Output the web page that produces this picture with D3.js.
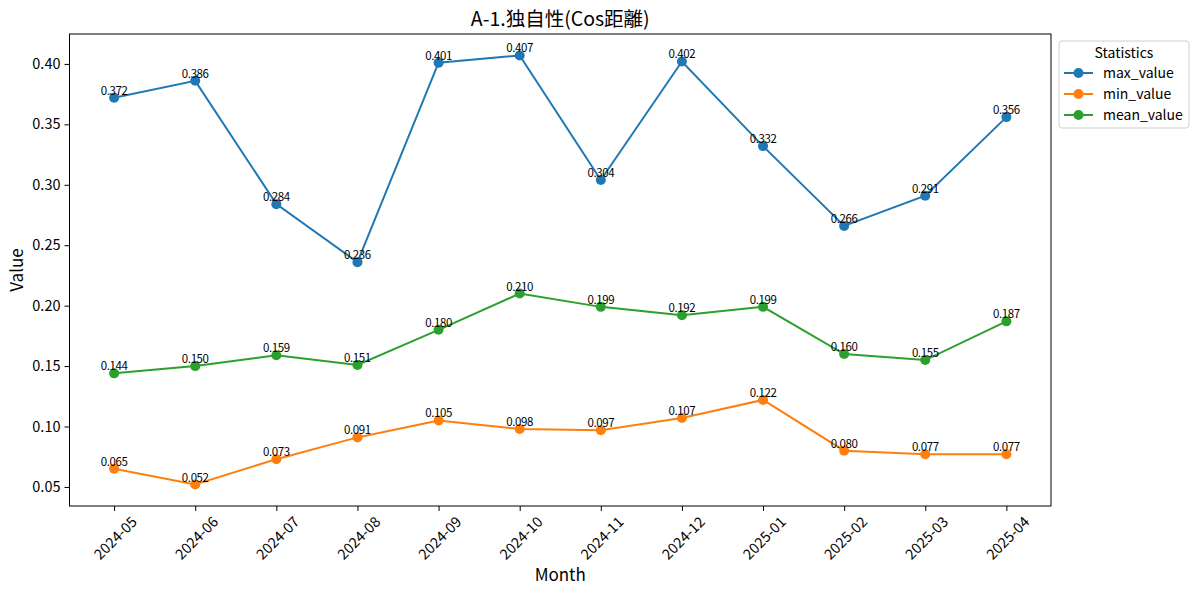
<!DOCTYPE html>
<html>
<head>
<meta charset="utf-8">
<script src="https://cdn.jsdelivr.net/npm/d3@7"></script>
<style>
  body { margin: 0; background: #fff; }
  svg text { font-family: "Noto Sans CJK JP", "Noto Sans", sans-serif; fill: #000; }
</style>
</head>
<body>
<svg id="chart" width="1200" height="595"></svg>
<script>
const months = ["2024-05","2024-06","2024-07","2024-08","2024-09","2024-10",
                "2024-11","2024-12","2025-01","2025-02","2025-03","2025-04"];
const maxValue  = [0.372,0.386,0.284,0.236,0.401,0.407,0.304,0.402,0.332,0.266,0.291,0.356];
const minValue  = [0.065,0.052,0.073,0.091,0.105,0.098,0.097,0.107,0.122,0.080,0.077,0.077];
const meanValue = [0.144,0.150,0.159,0.151,0.180,0.210,0.199,0.192,0.199,0.160,0.155,0.187];
const yTicks = [0.05,0.10,0.15,0.20,0.25,0.30,0.35,0.40];

const series = [
  {name: "max_value", values: maxValue, color: "#1f77b4"},
  {name: "min_value", values: minValue, color: "#ff7f0e"},
  {name: "mean_value", values: meanValue, color: "#2ca02c"}
];

const plotL = 69.5, plotR = 1051, plotT = 34, plotB = 506;
const svg = d3.select("#chart");

// matplotlib style 5% margins
const x = d3.scaleLinear().domain([-0.55, months.length - 1 + 0.55]).range([plotL, plotR]);
const allVals = maxValue.concat(minValue, meanValue);
const lo = d3.min(allVals), hi = d3.max(allVals), pad = (hi - lo) * 0.05;
const y = d3.scaleLinear().domain([lo - pad, hi + pad]).range([plotB, plotT]);

// y axis
const yAxis = svg.append("g").attr("transform", `translate(${plotL},0)`)
  .call(d3.axisLeft(y).tickValues(yTicks).tickFormat(d3.format(".2f")).tickSizeOuter(0).tickSize(5).tickPadding(4));
yAxis.select(".domain").remove();
yAxis.selectAll("text").attr("font-size", 14.5).style("font-family", '"Noto Sans CJK JP", sans-serif');

// x axis
const xAxis = svg.append("g").attr("transform", `translate(0,${plotB})`)
  .call(d3.axisBottom(x).tickValues(d3.range(months.length)).tickFormat(i => months[i]).tickSizeOuter(0).tickSize(5));
xAxis.select(".domain").remove();
xAxis.selectAll("text")
  .attr("font-size", 14.5)
  .style("font-family", '"Noto Sans CJK JP", sans-serif')
  .attr("text-anchor", "middle")
  .attr("dy", null)
  .attr("y", 0)
  .attr("dominant-baseline", "central")
  .attr("transform", "translate(0,31) rotate(-45)");

// frame
svg.append("rect").attr("x", plotL).attr("y", plotT)
  .attr("width", plotR - plotL).attr("height", plotB - plotT)
  .attr("fill", "none").attr("stroke", "#000").attr("stroke-width", 1);

// lines, markers, labels
const line = d3.line().x((d, i) => x(i)).y(d => y(d));
series.forEach(s => {
  svg.append("path").datum(s.values)
    .attr("d", line).attr("fill", "none")
    .attr("stroke", s.color).attr("stroke-width", 2);
  svg.append("g").selectAll("circle").data(s.values).enter().append("circle")
    .attr("cx", (d, i) => x(i)).attr("cy", d => y(d)).attr("r", 5)
    .attr("fill", s.color);
  svg.append("g").selectAll("text").data(s.values).enter().append("text")
    .attr("x", (d, i) => x(i)).attr("y", d => y(d) - 3)
    .attr("text-anchor", "middle").attr("font-size", 11.5)
    .attr("letter-spacing", -0.4)
    .text(d => d.toFixed(3));
});

// titles
svg.append("text").attr("x", (plotL + plotR) / 2).attr("y", 26)
  .attr("text-anchor", "middle").attr("font-size", 19.5).text("A-1.独自性(Cos距離)");
svg.append("text").attr("x", (plotL + plotR) / 2).attr("y", 581)
  .attr("text-anchor", "middle").attr("font-size", 17).text("Month");
svg.append("text").attr("transform", `translate(23,${(plotT + plotB) / 2}) rotate(-90)`)
  .attr("text-anchor", "middle").attr("font-size", 17).text("Value");

// legend
const lg = svg.append("g").attr("transform", "translate(1059,41)");
lg.append("rect").attr("width", 130).attr("height", 87).attr("rx", 3)
  .attr("fill", "#fff").attr("stroke", "#d0d0d0");
lg.append("text").attr("x", 65).attr("y", 17).attr("text-anchor", "middle")
  .attr("font-size", 14).text("Statistics");
series.forEach((s, i) => {
  const ly = 32 + i * 21;
  lg.append("line").attr("x1", 5).attr("x2", 34).attr("y1", ly).attr("y2", ly)
    .attr("stroke", s.color).attr("stroke-width", 2);
  lg.append("circle").attr("cx", 19.5).attr("cy", ly).attr("r", 5).attr("fill", s.color);
  lg.append("text").attr("x", 44).attr("y", ly).attr("dy", "0.35em")
    .attr("font-size", 14).text(s.name);
});
</script>
</body>
</html>
